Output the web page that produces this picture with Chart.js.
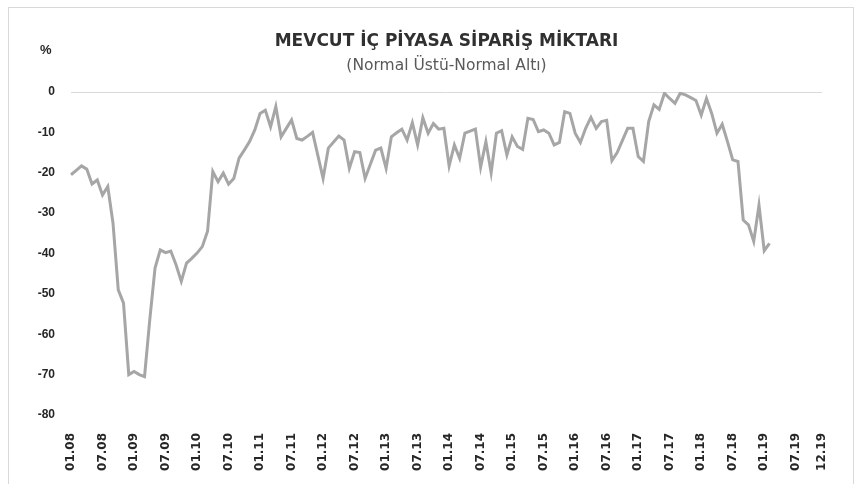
<!DOCTYPE html>
<html>
<head>
<meta charset="utf-8">
<script src="https://cdn.jsdelivr.net/npm/chart.js@4/dist/chart.umd.min.js"></script>
<style>
    html, body { margin: 0; padding: 0; background: #fff; overflow: hidden; }
    #wrap { position: relative; width: 859px; height: 484px; }
    #frame { position: absolute; left: 8px; top: 7px; width: 846px; height: 490px; box-sizing: border-box; border: 1px solid #d9d9d9; }
    #unit { position: absolute; left: 40px; top: 42px; font: bold 13px "Liberation Sans", Arial, sans-serif; color: #262626; }
    canvas { position: absolute; left: 0; top: 0; }
</style>
</head>
<body>
<div id="wrap">
    <div id="frame"></div>
    <canvas id="chart" width="859" height="484"></canvas>
    <div id="unit">%</div>
</div>
<script>
const years = ['08', '09', '10', '11', '12', '13', '14', '15', '16', '17', '18', '19'];
const months = ['01', '02', '03', '04', '05', '06', '07', '08', '09', '10', '11', '12'];

// monthly values, one array per year
const v2008 = [-20.5, -19.4, -18.3, -19.1, -22.8, -21.8, -25.5, -23.4, -32.5, -49, -52.3, -70];
const v2009 = [-69.2, -70, -70.5, -56.4, -43.6, -39.1, -39.8, -39.4, -42.8, -46.9, -42.4, -41.2];
const v2010 = [-39.9, -38.3, -34.5, -19.7, -22.2, -20.1, -22.8, -21.4, -16.4, -14.4, -12.3, -9.4];
const v2011 = [-5.3, -4.5, -8.6, -3.6, -11.1, -9, -6.9, -11.5, -11.9, -11, -10, -15.7];
const v2012 = [-21.4, -13.9, -12.4, -10.9, -11.9, -18.9, -14.8, -15, -21.4, -17.9, -14.4, -13.9];
const v2013 = [-18.9, -11.1, -10.1, -9.2, -11.9, -7.6, -13.1, -6.4, -10.2, -7.8, -9.2, -9];
const v2014 = [-18.3, -13.1, -16.4, -10.2, -9.7, -9.2, -18.6, -12.3, -20, -10.2, -9.6, -15.6];
const v2015 = [-11.1, -13.5, -14.2, -6.5, -6.8, -9.8, -9.4, -10.2, -13.1, -12.5, -4.9, -5.3];
const v2016 = [-10.2, -12.5, -9, -6.3, -9, -7.3, -7, -17, -15, -12, -9, -9];
const v2017 = [-16, -17.2, -7.3, -3.2, -4.3, -0.3, -1.6, -2.8, -0.3, -0.7, -1.4, -2.1];
const v2018 = [-5.7, -1.6, -5.3, -10.2, -8, -12.3, -16.8, -17.2, -31.7, -32.9, -37, -28];
const v2019 = [-39.3, -37.5];

const tickEvery = 6;
const lastLabel = '12.19';

let labels = [];
for (const y of years) {
    for (const m of months) {
        labels.push(m + '.' + y);
    }
}
const values = [].concat(v2008, v2009, v2010, v2011, v2012, v2013, v2014, v2015, v2016, v2017, v2018, v2019);

const ctx = document.getElementById('chart').getContext('2d');
let chart = new Chart(ctx, {
    type: 'line',
    data: {
        labels: labels,
        datasets: [{
            data: values,
            borderColor: '#a6a6a6',
            borderWidth: 3,
            pointRadius: 0,
            tension: 0,
            fill: false
        }]
    },
    options: {
        responsive: false,
        animation: false,
        devicePixelRatio: 1,
        layout: { padding: { top: 31, right: 37, bottom: 0, left: 0 } },
        plugins: {
            legend: { display: false },
            tooltip: { enabled: false },
            title: {
                display: true,
                fullSize: false,
                text: 'MEVCUT İÇ PİYASA SİPARİŞ MİKTARI',
                color: '#303030',
                font: { family: 'DejaVu Sans', size: 17, weight: 'bold', lineHeight: 1.2 },
                padding: { top: 0, bottom: 4 }
            },
            subtitle: {
                display: true,
                fullSize: false,
                text: '(Normal Üstü-Normal Altı)',
                color: '#595959',
                font: { family: 'DejaVu Sans', size: 15.5, weight: 'normal', lineHeight: 1.2 },
                padding: { top: 1, bottom: 17 }
            }
        },
        scales: {
            x: {
                offset: false,
                grid: { display: false },
                border: { display: false },
                ticks: {
                    autoSkip: false,
                    minRotation: 90,
                    maxRotation: 90,
                    padding: 10,
                    color: '#262626',
                    font: { family: 'DejaVu Sans', size: 12, weight: 'bold' },
                    callback: function (val, idx) {
                        if (idx === labels.length - 1) return lastLabel;
                        return idx % tickEvery === 0 ? labels[idx] : '';
                    }
                },
                afterFit: function (scale) { scale.height = 69; }
            },
            y: {
                min: -80,
                max: 0,
                grid: {
                    drawTicks: false,
                    lineWidth: 1,
                    color: function (c) { return c.tick && c.tick.value === 0 ? '#d9d9d9' : 'rgba(0,0,0,0)'; }
                },
                border: { display: false },
                ticks: {
                    stepSize: 10,
                    padding: 16,
                    color: '#262626',
                    font: { family: 'Liberation Sans', size: 12, weight: 'bold' }
                },
                afterFit: function (scale) { scale.width = 71; }
            }
        }
    }
});
</script>
</body>
</html>
